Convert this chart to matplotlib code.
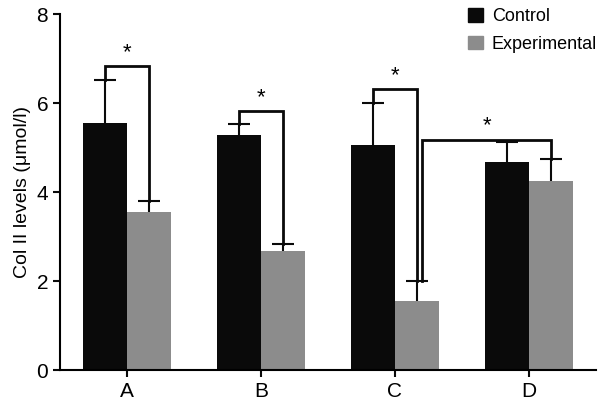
import numpy as np
import matplotlib.pyplot as plt
from matplotlib.patches import Patch

plt.rcParams['font.family'] = ['Liberation Sans', 'DejaVu Sans']

groups = ['A', 'B', 'C', 'D']
control = [5.55, 5.28, 5.06, 4.67]
control_err = [0.97, 0.25, 0.94, 0.45]
experimental = [3.55, 2.67, 1.55, 4.25]
experimental_err = [0.25, 0.16, 0.45, 0.49]

x = np.arange(len(groups))
w = 0.33
cap = 0.08

fig = plt.figure(figsize=(6.02, 4.05), dpi=100)
ax = fig.add_axes([0.0997, 0.0864, 0.8903, 0.879])

xc = x - w / 2
xe = x + w / 2
c_top = np.array(control) + np.array(control_err)
e_top = np.array(experimental) + np.array(experimental_err)

ax.bar(xc, control, w, color='#0a0a0a', label='Control', zorder=2)
ax.bar(xe, experimental, w, color='#8c8c8c', label='Experimental', zorder=2)
# upper error bars only
ax.vlines(xc, control, c_top, color='#0a0a0a', lw=1.5, zorder=3)
ax.hlines(c_top, xc - cap, xc + cap, color='#0a0a0a', lw=1.5, zorder=3)
ax.vlines(xe, experimental, e_top, color='#0a0a0a', lw=1.5, zorder=3)
ax.hlines(e_top, xe - cap, xe + cap, color='#0a0a0a', lw=1.5, zorder=3)


def bracket(x1, x2, y1, y2, top, star_y):
    ax.plot([x1, x1, x2, x2], [y1, top, top, y2], color='#0a0a0a', lw=2,
            solid_joinstyle='miter', zorder=4)
    ax.text((x1 + x2) / 2, star_y, '*', ha='center', va='center', fontsize=16)


bracket(xc[0], xe[0], c_top[0], e_top[0], 6.83, 7.13)
bracket(xc[1], xe[1], c_top[1], e_top[1], 5.82, 6.13)
bracket(xc[2], xe[2], c_top[2], e_top[2], 6.31, 6.62)
bracket(xe[2] + 0.037, xe[3], e_top[2], e_top[3], 5.17, 5.48)

ax.set_xlim(-0.5, 3.5)
ax.set_ylim(0, 8)
ax.set_yticks([0, 2, 4, 6, 8])
ax.set_xticks(x)
ax.set_xticklabels(groups)
ax.tick_params(labelsize=15, width=1.5, length=5, color='#0a0a0a')
ax.set_ylabel('Col II levels (μmol/l)', fontsize=14)
for s in ['top', 'right']:
    ax.spines[s].set_visible(False)
for s in ['left', 'bottom']:
    ax.spines[s].set_linewidth(1.5)

handles = [Patch(color='#0a0a0a', label='Control'),
           Patch(color='#8c8c8c', label='Experimental')]
fig.legend(handles=handles, loc='upper right', bbox_to_anchor=(597 / 602, 1 - 8 / 405),
           frameon=False, fontsize=13, handlelength=0.8, handleheight=0.8,
           handletextpad=0.5, labelspacing=0.58, borderpad=0, borderaxespad=0)

fig.savefig('out.png', dpi=100)
